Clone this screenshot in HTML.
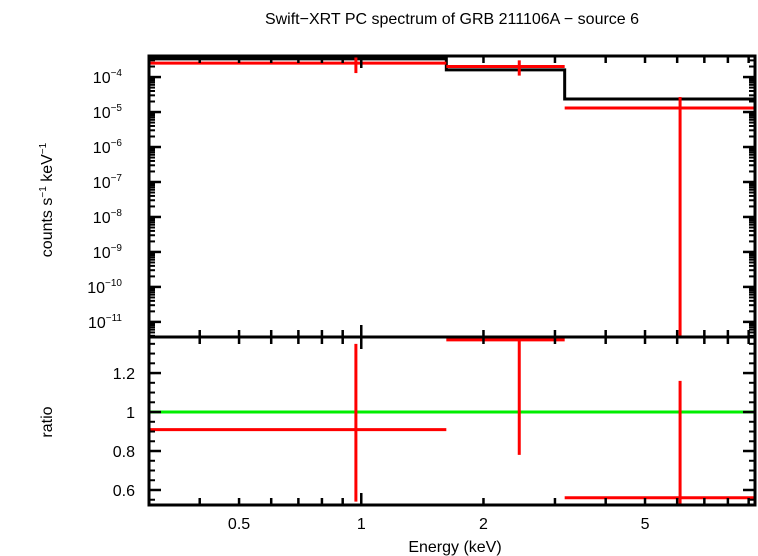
<!DOCTYPE html>
<html><head><meta charset="utf-8"><style>
body{margin:0;background:#fff;}
svg{display:block;font-family:"Liberation Sans",sans-serif;}
</style></head><body>
<svg id="chart" width="758" height="556" viewBox="0 0 758 556" xmlns="http://www.w3.org/2000/svg">
<text x="452" y="24" font-size="16" text-anchor="middle">Swift−XRT PC spectrum of GRB 211106A − source 6</text>
<text transform="translate(52,200) rotate(-90)" font-size="16" text-anchor="middle">counts s<tspan font-size="10" dy="-6">−1</tspan><tspan dy="6"> keV</tspan><tspan font-size="10" dy="-6">−1</tspan></text>
<text transform="translate(52,422) rotate(-90)" font-size="16" text-anchor="middle">ratio</text>
<text x="455" y="552" font-size="16" text-anchor="middle">Energy (keV)</text>
<g id="g"></g>
</svg>
<script>
const binLo=[0.3,1.62,3.17];
const binHi=[1.62,3.17,9.33];
const binCenter=[0.97,2.45,6.1];
const dataVals=[2.5e-4,2.0e-4,1.3e-5];
const dataErrHi=[3.8e-4,3.0e-4,2.7e-5];
const dataErrLo=[1.3e-4,1.1e-4,1e-13];
const modelVals=[3.3e-4,1.6e-4,2.35e-5];
const ratioVals=[0.91,1.37,0.56];
const ratioErrHi=[1.35,1.5,1.16];
const ratioErrLo=[0.54,0.78,0.5];
const xTicks=[0.5,1,2,5];
const xTickLabels=["0.5","1","2","5"];
const yTopExp=[-4,-5,-6,-7,-8,-9,-10,-11];
const ratioTicks=[0.6,0.8,1,1.2];
const ratioTickLabels=["0.6","0.8","1","1.2"];

const L=149,R=755,T=56,M=337,B=505;
const xMin=0.3,xMax=9.33,yTopMax=4e-4,yTopMin=3.7e-12,rMax=1.385,rMin=0.523;
const X=e=>L+(R-L)*(Math.log10(e)-Math.log10(xMin))/(Math.log10(xMax)-Math.log10(xMin));
const YT=v=>{const c=Math.max(yTopMin,Math.min(yTopMax,v));return T+(M-T)*(Math.log10(yTopMax)-Math.log10(c))/(Math.log10(yTopMax)-Math.log10(yTopMin));};
const YR=v=>{const c=Math.max(rMin,Math.min(rMax,v));return M+(B-M)*(rMax-c)/(rMax-rMin);};
const g=document.getElementById('g');
const NS="http://www.w3.org/2000/svg";
function ln(x1,y1,x2,y2,c,w,name){const l=document.createElementNS(NS,'line');l.setAttribute('x1',x1);l.setAttribute('y1',y1);l.setAttribute('x2',x2);l.setAttribute('y2',y2);l.setAttribute('stroke',c);l.setAttribute('stroke-width',w);


g.appendChild(l);return l;}
function tx(x,y,s,anchor,name,size){const t=document.createElementNS(NS,'text');t.setAttribute('x',x);t.setAttribute('y',y);t.setAttribute('font-size',size||16);t.setAttribute('text-anchor',anchor);t.innerHTML=s;


g.appendChild(t);}
// ratio=1 line
ln(L,YR(1),R,YR(1),'#00ee00',3,'ratio-unity-line');
// model step
let d='';
for(let i=0;i<binLo.length;i++){d+=(i?'L':'M')+X(binLo[i])+','+YT(modelVals[i])+'L'+X(binHi[i])+','+YT(modelVals[i]);}
const p=document.createElementNS(NS,'path');p.setAttribute('d',d);p.setAttribute('fill','none');p.setAttribute('stroke','#000');p.setAttribute('stroke-width',3);


g.appendChild(p);
for(let i=0;i<binLo.length;i++){
 ln(X(binLo[i]),YT(dataVals[i]),X(binHi[i]),YT(dataVals[i]),'#ff0000',3,'data-bin-'+i);
 ln(X(binCenter[i]),YT(dataErrHi[i]),X(binCenter[i]),YT(dataErrLo[i]),'#ff0000',3,'data-error-'+i);
 ln(X(binLo[i]),YR(ratioVals[i]),X(binHi[i]),YR(ratioVals[i]),'#ff0000',3,'ratio-bin-'+i);
 ln(X(binCenter[i]),YR(ratioErrHi[i]),X(binCenter[i]),YR(ratioErrLo[i]),'#ff0000',3,'ratio-error-'+i);
}
// frames
[[T,M],[M,B]].forEach((f,k)=>{const r=document.createElementNS(NS,'rect');r.setAttribute('x',L);r.setAttribute('y',f[0]);r.setAttribute('width',R-L);r.setAttribute('height',f[1]-f[0]);r.setAttribute('fill','none');r.setAttribute('stroke','#000');r.setAttribute('stroke-width',3);


g.appendChild(r);});
// x ticks
for(let dec=0.1;dec<=10;dec*=10){for(let m=1;m<10;m++){const e=dec*m;if(e<xMin||e>xMax)continue;const x=X(e);const len=(m===1)?12:7;
 [T,M].forEach(y=>ln(x,y,x,y+len,'#000',2.5,'x-tick'));[M,B].forEach(y=>ln(x,y,x,y-len,'#000',2.5,'x-tick'));}}
xTicks.forEach((v,i)=>tx(X(v),529,xTickLabels[i],'middle','x-tick-label'));
// top y ticks
yTopExp.forEach(e=>{const y=YT(Math.pow(10,e));ln(L,y,L+12,y,'#000',2.5,'y-tick');ln(R,y,R-12,y,'#000',2.5,'y-tick');
 tx(122,y+6,'10<tspan font-size="10" dy="-7">'+(e<0?'−':'')+Math.abs(e)+'</tspan>','end','y-tick-label');});
for(let e=-12;e<=-4;e++){for(let m=2;m<10;m++){const v=m*Math.pow(10,e);if(v<yTopMin||v>yTopMax)continue;const y=YT(v);ln(L,y,L+6,y,'#000',2,'y-minor-tick');ln(R,y,R-6,y,'#000',2,'y-minor-tick');}}
// ratio ticks
ratioTicks.forEach((v,i)=>{const y=YR(v);ln(L,y,L+12,y,'#000',2.5,'ratio-tick');ln(R,y,R-12,y,'#000',2.5,'ratio-tick');tx(135,y+6,ratioTickLabels[i],'end','ratio-tick-label');});
for(let v=0.55;v<1.39;v+=0.05){const y=YR(v);ln(L,y,L+6,y,'#000',2,'ratio-minor-tick');ln(R,y,R-6,y,'#000',2,'ratio-minor-tick');}
</script>
</body></html>
